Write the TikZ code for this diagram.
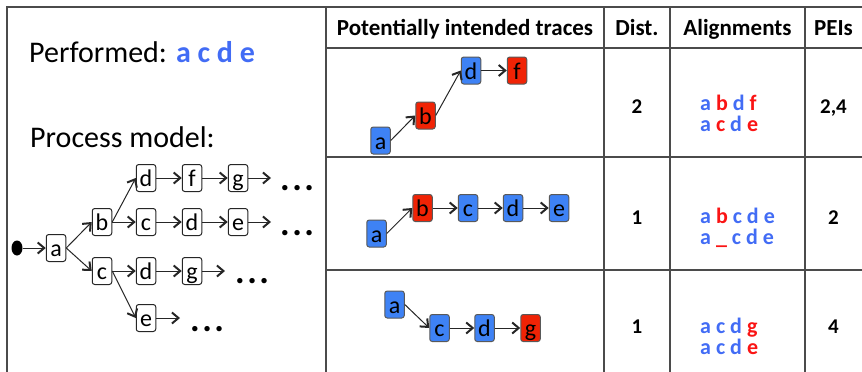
\documentclass[tikz,border=0pt]{standalone}
\usepackage{fontspec}
\setmainfont{Carlito}
\usetikzlibrary{arrows.meta,shapes.geometric}
\definecolor{blueT}{RGB}{66,108,245}
\definecolor{redT}{RGB}{250,20,20}
\definecolor{boxblue}{RGB}{62,130,245}
\definecolor{boxred}{RGB}{240,35,5}
\definecolor{gridc}{RGB}{75,75,75}
\begin{document}
\begin{tikzpicture}[x=1pt,y=-1pt,
  arr/.style={draw=black!85, line width=1pt, -{Straight Barb[length=6.5pt,width=11pt,line width=2pt]}},
  tbox/.style={draw=black!85, line width=1pt, rounded corners=2.5pt, fill=white, minimum width=19.5pt, minimum height=27pt, inner sep=0pt, text height=17pt, text depth=0pt, font=\fontsize{24}{24}\selectfont},
  bbox/.style={tbox, fill=boxblue, draw=black!65},
  rbox/.style={tbox, fill=boxred, draw=black!65},
  gridline/.style={draw=gridc, line width=1.3pt},
  dots/.style={anchor=base west, inner sep=0pt, font=\fontsize{36}{36}\selectfont\bfseries},
  hdr/.style={font=\fontsize{23}{23}\selectfont\bfseries, anchor=base},
  val/.style={font=\fontsize{21}{21}\selectfont\bfseries, anchor=base},
  alg/.style={font=\fontsize{22}{22}\selectfont\bfseries, anchor=base west, inner sep=0pt, text=blueT},
  big/.style={font=\fontsize{30}{30}\selectfont, anchor=base west, inner sep=0pt}
]
\useasboundingbox (0,0) rectangle (862,372);
% grid
\draw[gridline] (7,380) -- (7,7) -- (870,7);
\draw[gridline] (326,7) -- (326,380);
\draw[gridline] (604,7) -- (604,380);
\draw[gridline] (670,7) -- (670,380);
\draw[gridline] (805,7) -- (805,380);
\draw[gridline] (326,48) -- (870,48);
\draw[gridline] (326,157) -- (870,157);
\draw[gridline] (326,270) -- (870,270);

% left texts
\node[big] (perf) at (29,62) {Performed: \textcolor{blueT}{\bfseries a c d e}};
\node[big] (pm) at (30,147) {Process model:};

% process model tree
\node[ellipse, fill=black, minimum width=11pt, minimum height=15pt, inner sep=0pt] (start) at (17,248) {};
\node[tbox] (ma) at (56,248) {a};
\node[tbox] (mb) at (102,222) {b};
\node[tbox] (mc) at (102,271) {c};
\node[tbox] (md1) at (146,178) {d};
\node[tbox] (mf1) at (192,178) {f};
\node[tbox] (mg1) at (238,178) {g};
\node[tbox] (mc2) at (146,222) {c};
\node[tbox] (md2) at (192,222) {d};
\node[tbox] (me2) at (238,222) {e};
\node[tbox] (md3) at (146,271) {d};
\node[tbox] (mg3) at (192,271) {g};
\node[tbox] (me4) at (146,318) {e};
\coordinate (end1) at (271,178);
\coordinate (end2) at (271,222);
\coordinate (end3) at (225,271);
\coordinate (end4) at (180,318);
\node[dots] (dots1) at (280,190) {.\kern2.5pt.\kern2.5pt.};
\node[dots] (dots2) at (280,235) {.\kern2.5pt.\kern2.5pt.};
\node[dots] (dots3) at (235,283) {.\kern2.5pt.\kern2.5pt.};
\node[dots] (dots4) at (190,331) {.\kern2.5pt.\kern2.5pt.};
\draw[arr] (start) -- (ma);
\draw[arr] (ma.east) -- (mb.west);
\draw[arr] (ma.east) -- (mc.west);
\draw[arr] (mb.east) -- (md1.west);
\draw[arr] (md1) -- (mf1);
\draw[arr] (mf1) -- (mg1);
\draw[arr] (mg1) -- (end1);
\draw[arr] (mb) -- (mc2);
\draw[arr] (mc2) -- (md2);
\draw[arr] (md2) -- (me2);
\draw[arr] (me2) -- (end2);
\draw[arr] (mc) -- (md3);
\draw[arr] (md3) -- (mg3);
\draw[arr] (mg3) -- (end3);
\draw[arr] (mc.east) -- (me4.west);
\draw[arr] (me4) -- (end4);

% header
\node[hdr] (h1) at (465,35) {Potentially intended traces};
\node[hdr] (h2) at (637,35) {Dist.};
\node[hdr] (h3) at (737.5,35) {Alignments};
\node[hdr] (h4) at (833.5,35) {PEIs};

% row 1 trace
\node[bbox] (r1a) at (380.5,140.5) {a};
\node[rbox] (r1b) at (425.5,115.5) {b};
\node[bbox] (r1d) at (471,70.5) {d};
\node[rbox] (r1f) at (517,70.5) {f};
\draw[arr] (r1a.east) -- (r1b.west);
\draw[arr] (r1b.east) -- (r1d.west);
\draw[arr] (r1d) -- (r1f);

% row 2 trace
\node[bbox] (r2a) at (376.5,233.5) {a};
\node[rbox] (r2b) at (422.5,208) {b};
\node[bbox] (r2c) at (468,208) {c};
\node[bbox] (r2d) at (513,208) {d};
\node[bbox] (r2e) at (559,208) {e};
\draw[arr] (r2a.east) -- (r2b.west);
\draw[arr] (r2b) -- (r2c);
\draw[arr] (r2c) -- (r2d);
\draw[arr] (r2d) -- (r2e);

% row 3 trace
\node[bbox] (r3a) at (394.5,304.5) {a};
\node[bbox] (r3c) at (439.5,328) {c};
\node[bbox] (r3d) at (484.5,328) {d};
\node[rbox] (r3g) at (530.5,328) {g};
\draw[arr] (r3a.east) -- (r3c.west);
\draw[arr] (r3c) -- (r3d);
\draw[arr] (r3d) -- (r3g);

% distances
\node[val] (d1) at (637,113) {2};
\node[val] (d2) at (637,224) {1};
\node[val] (d3) at (637,333) {1};

% alignments
\node[alg] (a1t) at (700,110) {a \textcolor{redT}{b} d \textcolor{redT}{f}};
\node[alg] (a1b) at (700,131) {a \textcolor{redT}{c} d \textcolor{redT}{e}};
\node[alg] (a2t) at (700,223) {a \textcolor{redT}{b} c d e};
\node[alg] (a2b) at (700,244) {a \textcolor{redT}{\_} c d e};
\node[alg] (a3t) at (700,333) {a c d \textcolor{redT}{g}};
\node[alg] (a3b) at (700,354) {a c d \textcolor{redT}{e}};

% PEIs
\node[val] (p1) at (833.5,113) {2,4};
\node[val] (p2) at (833.5,224) {2};
\node[val] (p3) at (833.5,333) {4};
\end{tikzpicture}
\end{document}
